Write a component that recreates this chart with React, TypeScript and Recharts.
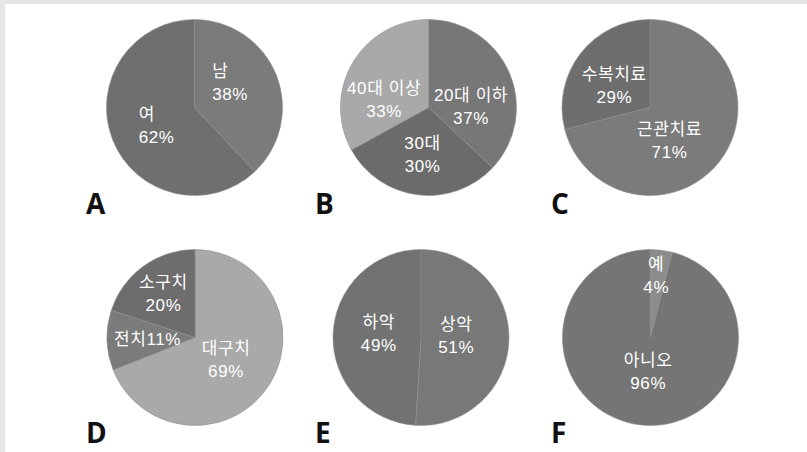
import { PieChart, Pie, Cell } from 'recharts';

// A: 성별
const A_NAMES = ['남', '여'];
const A_VALUES = [38, 62];
// B: 연령
const B_NAMES = ['20대 이하', '30대', '40대 이상'];
const B_VALUES = [37, 30, 33];
// C: 치료
const C_NAMES = ['근관치료', '수복치료'];
const C_VALUES = [71, 29];
// D: 치아
const D_NAMES = ['대구치', '전치', '소구치'];
const D_VALUES = [69, 11, 20];
// E: 악궁
const E_NAMES = ['상악', '하악'];
const E_VALUES = [51, 49];
// F: 예/아니오
const F_NAMES = ['예', '아니오'];
const F_VALUES = [4, 96];

const PANEL_LETTERS = ['A', 'B', 'C', 'D', 'E', 'F'];

const WIDTH = 807;
const HEIGHT = 452;
const RADIUS = 88;
const RAD = Math.PI / 180;
const LABEL_FONT = "'Liberation Sans', 'Noto Sans CJK KR', sans-serif";

// label placement: distance along the slice's mid-angle (share of radius) plus a small nudge
const panels = [
  {
    names: A_NAMES, values: A_VALUES, cx: 194.5, cy: 107.5, colors: ['#7b7b7b', '#6f6f6f'],
    ratio: [0.29, 0.67], nudge: [[-6, -15], [-1, -3]], anchor: 'start', oneLine: [] as string[],
  },
  {
    names: B_NAMES, values: B_VALUES, cx: 428.5, cy: 107.5, colors: ['#777777', '#6b6b6b', '#a9a9a9'],
    ratio: [0.44, 0.54, 0.48], nudge: [[7, 15], [0, 0], [-8, 14]], anchor: 'middle', oneLine: [],
  },
  {
    names: C_NAMES, values: C_VALUES, cx: 650, cy: 107.5, colors: ['#7b7b7b', '#6e6e6e'],
    ratio: [0.41, 0.47], nudge: [[-9, 11], [-3, 4]], anchor: 'middle', oneLine: [],
  },
  {
    names: D_NAMES, values: D_VALUES, cx: 195, cy: 337.5, colors: ['#a9a9a9', '#7b7b7b', '#6d6d6d'],
    ratio: [0.44, 0.54, 0.61], nudge: [[-1, 1], [0, 1], [0, 0]], anchor: 'middle', oneLine: ['전치'],
  },
  {
    names: E_NAMES, values: E_VALUES, cx: 421, cy: 337.5, colors: ['#787878', '#727272'],
    ratio: [0.4, 0.48], nudge: [[0, -3], [0, -2]], anchor: 'middle', oneLine: [],
  },
  {
    names: F_NAMES, values: F_VALUES, cx: 650.5, cy: 337.5, colors: ['#8c8c8c', '#757575'],
    ratio: [0.7, 0.39], nudge: [[-2, 0], [2, 0]], anchor: 'middle', oneLine: [],
  },
];

const letterPos = [
  { left: 86, top: 184 },
  { left: 315, top: 184 },
  { left: 551, top: 184 },
  { left: 86, top: 413 },
  { left: 315, top: 413 },
  { left: 551, top: 413 },
];

function makeLabel(p: (typeof panels)[number]) {
  return (props: any) => {
    const { cx, cy, midAngle, outerRadius, index, name, value } = props;
    const r = outerRadius * p.ratio[index];
    const x = cx + r * Math.cos(-midAngle * RAD) + p.nudge[index][0];
    const y = cy + r * Math.sin(-midAngle * RAD) + p.nudge[index][1];
    const style = { fontFamily: LABEL_FONT, fontSize: 17, letterSpacing: 0.6 };
    const anchor = p.anchor as 'start' | 'middle';
    if (p.oneLine.includes(name)) {
      return (
        <text x={x} y={y} fill="#ffffff" textAnchor={anchor} dominantBaseline="central" style={style}>
          {name}{value}%
        </text>
      );
    }
    return (
      <g>
        <text x={x} y={y - 11.5} fill="#ffffff" textAnchor={anchor} dominantBaseline="central" style={style}>
          {name}
        </text>
        <text x={x} y={y + 11.5} fill="#ffffff" textAnchor={anchor} dominantBaseline="central" style={style}>
          {value}%
        </text>
      </g>
    );
  };
}

export default function App() {
  return (
    <div style={{ position: 'absolute', left: 0, top: 0, width: WIDTH, height: HEIGHT, background: '#ffffff', overflow: 'hidden' }}>
      <div style={{ position: 'absolute', left: 0, top: 0, width: WIDTH, height: 4, background: '#e6e6e6' }} />
      <div style={{ position: 'absolute', left: 0, top: 0, width: 5, height: HEIGHT, background: '#e6e6e6' }} />
      <PieChart
        width={WIDTH}
        height={HEIGHT}
        margin={{ top: 0, right: 0, bottom: 0, left: 0 }}
        style={{ position: 'absolute', left: 0, top: 0 }}
      >
        {panels.map((p, i) => (
          <Pie
            key={i}
            data={p.names.map((n, j) => ({ name: n, value: p.values[j] }))}
            dataKey="value"
            nameKey="name"
            cx={p.cx}
            cy={p.cy}
            outerRadius={RADIUS}
            startAngle={90}
            endAngle={-270}
            stroke="#8e8e8e"
            strokeWidth={0.6}
            labelLine={false}
            label={makeLabel(p)}
            isAnimationActive={false}
          >
            {p.colors.map((c, j) => (
              <Cell key={j} fill={c} />
            ))}
          </Pie>
        ))}
      </PieChart>
      {PANEL_LETTERS.map((l, i) => (
        <div
          key={l}
          style={{
            position: 'absolute',
            left: letterPos[i].left,
            top: letterPos[i].top,
            fontFamily: "'Open Sans', sans-serif",
            fontWeight: 700,
            fontSize: 28,
            lineHeight: '38px',
            color: '#111111',
          }}
        >
          {l}
        </div>
      ))}
    </div>
  );
}
